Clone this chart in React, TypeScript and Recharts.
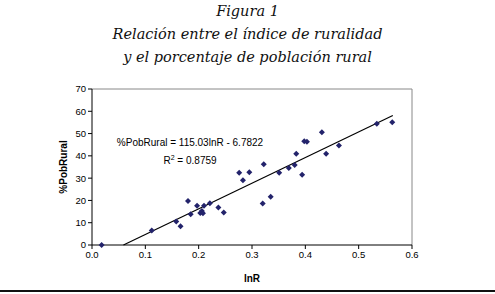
import React from "react";
import {
  ScatterChart,
  Scatter,
  XAxis,
  YAxis,
  ReferenceLine,
  Label,
} from "recharts";

// lnR vs %PobRural
const lnR = [
  0.018, 0.112, 0.158, 0.166, 0.18, 0.185, 0.197, 0.203, 0.206, 0.208, 0.21,
  0.221, 0.237, 0.247, 0.276, 0.283, 0.295, 0.32, 0.322, 0.335, 0.351, 0.369,
  0.38, 0.383, 0.394, 0.398, 0.403, 0.431, 0.439, 0.463, 0.534, 0.563,
];
const pobRural = [
  0, 6.5, 10.5, 8.4, 19.7, 13.8, 17.6, 14.4, 15.3, 14.3, 17.6, 18.7, 16.8,
  14.6, 32.4, 29.0, 32.7, 18.6, 36.2, 21.6, 32.4, 34.5, 35.9, 40.9, 31.5,
  46.6, 46.3, 50.6, 40.9, 44.6, 54.4, 55.1,
];
// extremos de la linea de tendencia
const trendX = [0.059, 0.564];
const trendY = [0, 58.1];

const xTicks = [0, 0.1, 0.2, 0.3, 0.4, 0.5, 0.6];
const yTicks = [0, 10, 20, 30, 40, 50, 60, 70];

const points = lnR.map((x, i) => ({ x, y: pobRural[i] }));
const trend = trendX.map((x, i) => ({ x, y: trendY[i] }));

const Diamond = (props: any) => {
  const { cx, cy } = props;
  if (cx == null || cy == null) return null;
  const r = 3;
  return (
    <path
      d={`M${cx},${cy - r}L${cx + r},${cy}L${cx},${cy + r}L${cx - r},${cy}Z`}
      fill="#23236b"
    />
  );
};

const tickStyle = { fontFamily: "Liberation Sans, Arial", fontSize: 9.5, fill: "#000" };

export default function App() {
  return (
    <div
      style={{
        position: "absolute",
        left: 0,
        top: 0,
        width: 495,
        height: 294,
        background: "#fff",
        fontFamily: "DejaVu Serif, serif",
      }}
    >
      <div
        style={{
          position: "absolute",
          left: 0,
          top: 0,
          width: 495,
          textAlign: "center",
          fontStyle: "italic",
          fontSize: 14.5,
          lineHeight: "23px",
          color: "#111",
        }}
      >
        <div>Figura 1</div>
        <div>Relación entre el índice de ruralidad</div>
        <div>y el porcentaje de población rural</div>
      </div>
      <div style={{ position: "absolute", left: 0, top: 0 }}>
        <ScatterChart
          width={495}
          height={294}
          margin={{ top: 89, right: 83, bottom: 10, left: 52 }}
        >
          <XAxis
            type="number"
            dataKey="x"
            domain={[0, 0.6]}
            ticks={xTicks}
            tickFormatter={(v: number) => v.toFixed(1)}
            axisLine={{ stroke: "#000" }}
            tickLine={{ stroke: "#000" }}
            tickSize={4}
            tick={tickStyle}
            height={39}
          >
            <Label
              value="lnR"
              position="insideBottom"
              offset={2}
              style={{ fontFamily: "Liberation Sans, Arial", fontSize: 10, fontWeight: "bold", fill: "#000" }}
            />
          </XAxis>
          <YAxis
            type="number"
            dataKey="y"
            domain={[0, 70]}
            ticks={yTicks}
            axisLine={{ stroke: "#000" }}
            tickLine={{ stroke: "#000" }}
            tickSize={4}
            tick={tickStyle}
            width={40}
          >
            <Label
              value="%PobRural"
              angle={-90}
              position="insideLeft"
              offset={11}
              style={{ fontFamily: "Liberation Sans, Arial", fontSize: 10, fontWeight: "bold", fill: "#000", textAnchor: "middle" }}
            />
          </YAxis>
          <ReferenceLine y={70} stroke="#888" />
          <ReferenceLine x={0.6} stroke="#888" />
          <Scatter
            data={trend}
            line={{ stroke: "#000", strokeWidth: 1.2 }}
            shape={() => null}
            isAnimationActive={false}
          />
          <Scatter data={points} shape={Diamond} isAnimationActive={false} />
        </ScatterChart>
      </div>
      <div
        style={{
          position: "absolute",
          left: 110,
          top: 135,
          width: 160,
          textAlign: "center",
          fontFamily: "Liberation Sans, Arial",
          fontSize: 10,
          lineHeight: "15px",
        }}
      >
        <div>%PobRural = 115.03lnR - 6.7822</div>
        <div>
          R<sup style={{ fontSize: 7 }}>2</sup> = 0.8759
        </div>
      </div>
      <div
        style={{
          position: "absolute",
          left: 0,
          top: 290,
          width: 495,
          height: 2,
          background: "#111",
        }}
      />
    </div>
  );
}
